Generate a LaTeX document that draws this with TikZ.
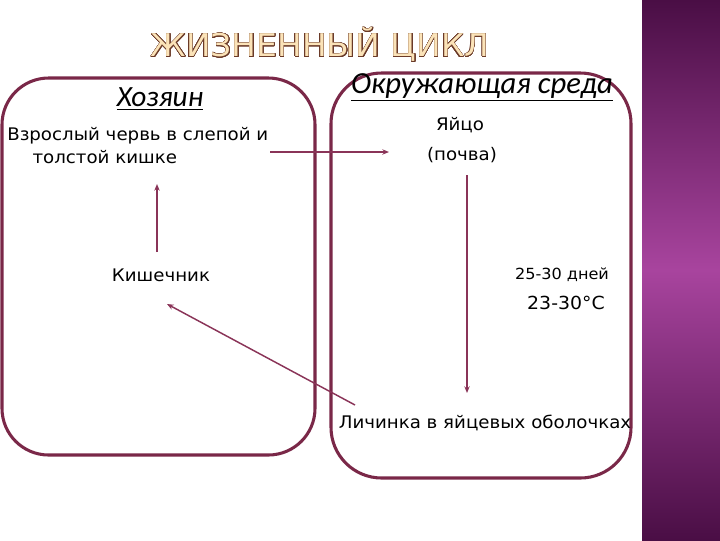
\documentclass[tikz,border=0pt]{standalone}
\usepackage{fontspec}
\setmainfont{DejaVu Sans}[FakeStretch=1.05]
\newfontfamily\headfont{Carlito}
\newfontfamily\titlefont{DejaVu Sans}[FakeStretch=1.05]
\usepackage[copies]{contour}
\usetikzlibrary{positioning, arrows.meta}
\definecolor{boxline}{HTML}{7A2848}
\definecolor{arrowline}{HTML}{8A3458}
\definecolor{stripdark}{HTML}{4A0E45}
\definecolor{stripmid}{HTML}{A8449E}
\definecolor{titlefill}{HTML}{FBE3B8}
\definecolor{titleedge}{HTML}{6A3A28}
\contourlength{0.35pt}
\contournumber{24}

\begin{document}
\begin{tikzpicture}[x=0.75pt, y=-0.75pt,
    frame/.style={draw=boxline, line width=2.3pt, rounded corners=35pt},
    txt/.style={inner sep=0pt, font=\fontsize{13}{17}\selectfont},
    head/.style={inner sep=0pt, font=\headfont\itshape\fontsize{22}{26}\selectfont},
    link/.style={draw=arrowline, line width=1.1pt, -{Stealth[length=5pt,width=4pt]}}]
    \useasboundingbox (0,0) rectangle (720,540);
        % purple strip on the right
        \shade[top color=stripdark, bottom color=stripdark, middle color=stripmid] (642,0) rectangle (720,540);
        \node[inner sep=0pt, font=\titlefont\fontsize{23.5}{28}\selectfont] (title) at (320,45)
            {\contour{titleedge}{\textcolor{titlefill}{ЖИЗНЕННЫЙ ЦИКЛ}}};
        % two frames
        \draw[frame] (2,78) rectangle (315,455);
        \draw[frame, rounded corners=38pt] (331,73) rectangle (631,478);
        % host
        \node[head] (host) at (160,99) {\underline{Хозяин}};
        \node[txt, align=left, anchor=north west] (adult) at (7,127)
            {Взрослый червь в слепой и\\\hspace*{19pt}толстой кишке};
        \node[txt] (gut) at (161,275) {Кишечник};
        % environment
        \node[head, font=\headfont\itshape\fontsize{23}{27}\selectfont] (env) at (482,87) {\underline{Окружающая среда}};
        \node[txt] (egg) at (460,125) {Яйцо};
        \node[txt] (soil) at (462,155) {(почва)};
        \node[txt, font=\fontsize{11.5}{15}\selectfont] (days) at (562,275) {25-30 дней};
        \node[txt, font=\fontsize{13.5}{17}\selectfont] (temp) at (566,303) {23-30°С};
        \node[txt] (larva) at (485,423) {Личинка в яйцевых оболочках};
        % arrows
        \coordinate (adultEnd) at (270,152);
        \coordinate (eggEnd) at (389,152);
        \coordinate (soilEnd) at (467,175);
        \coordinate (larvaEnd) at (467,393);
        \coordinate (larvaStart) at (355,405);
        \coordinate (gutEnd) at (167,304);
        \coordinate (gutStart) at (157,252);
        \coordinate (adultBot) at (157,184);
        \draw[link] (adultEnd) -- (eggEnd);
        \draw[link] (soilEnd) -- (larvaEnd);
        \draw[link] (larvaStart) -- (gutEnd);
        \draw[link] (gutStart) -- (adultBot);
\end{tikzpicture}
\end{document}
